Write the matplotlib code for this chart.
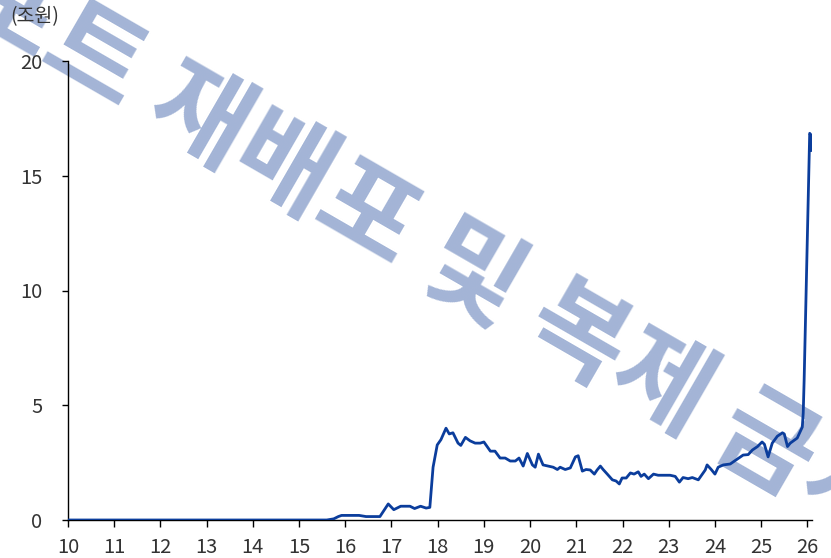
import matplotlib
matplotlib.use("Agg")
import matplotlib.pyplot as plt

plt.rcParams['font.family'] = ['Noto Sans CJK KR', 'DejaVu Sans']

# Data (year, trillion KRW)
years = [10.0, 15.6, 15.75, 15.85, 15.92, 16.3, 16.45, 16.75, 16.93, 17.05, 17.2, 17.4,
         17.5, 17.63, 17.75, 17.83, 17.9, 17.99, 18.07, 18.18, 18.25, 18.33, 18.44, 18.5,
         18.6, 18.7, 18.81, 18.92, 19.0, 19.14, 19.24, 19.35, 19.46, 19.57, 19.68, 19.76,
         19.85, 19.94, 20.05, 20.11, 20.18, 20.28, 20.39, 20.5, 20.59, 20.65, 20.76, 20.87,
         20.98, 21.04, 21.13, 21.21, 21.3, 21.39, 21.45, 21.52, 21.58, 21.67, 21.78, 21.86,
         21.93, 21.99, 22.08, 22.17, 22.25, 22.34, 22.4, 22.47, 22.56, 22.67, 22.77, 22.88,
         23.03, 23.14, 23.23, 23.31, 23.42, 23.51, 23.64, 23.79, 23.83, 23.92, 24.0, 24.07,
         24.18, 24.33, 24.48, 24.61, 24.72, 24.81, 24.92, 25.02, 25.07, 25.15, 25.24, 25.35,
         25.46, 25.5, 25.57, 25.63, 25.78, 25.89, 25.91, 25.93, 26.05, 26.07, 26.08]
values = [0.0, 0.0, 0.05, 0.15, 0.2, 0.2, 0.15, 0.15, 0.7, 0.45, 0.6, 0.6,
          0.5, 0.6, 0.52, 0.55, 2.3, 3.27, 3.5, 4.0, 3.75, 3.8, 3.35, 3.25,
          3.6, 3.45, 3.35, 3.35, 3.4, 3.0, 3.0, 2.7, 2.7, 2.57, 2.57, 2.7,
          2.35, 2.9, 2.4, 2.3, 2.87, 2.4, 2.35, 2.3, 2.2, 2.3, 2.2, 2.27,
          2.75, 2.8, 2.13, 2.2, 2.18, 2.0, 2.18, 2.35, 2.2, 2.0, 1.75, 1.7,
          1.57, 1.83, 1.83, 2.05, 2.0, 2.1, 1.9, 2.0, 1.8, 2.0, 1.95, 1.95,
          1.95, 1.9, 1.65, 1.85, 1.8, 1.85, 1.75, 2.18, 2.4, 2.2, 2.0, 2.3,
          2.4, 2.44, 2.65, 2.83, 2.85, 3.05, 3.2, 3.4, 3.3, 2.75, 3.35, 3.65,
          3.8, 3.75, 3.2, 3.35, 3.57, 4.05, 4.66, 6.1, 16.85, 16.8, 16.1]

xticks = list(range(10, 27))
yticks = [0, 5, 10, 15, 20]
unit_label = "(조원)"
watermark = "리포트 재배포 및 복제 금지"

fig = plt.figure(figsize=(8.31, 5.58), dpi=100)
ax = fig.add_axes([68/831, 1-520/558, (812-68)/831, (520-61)/558])

# Watermark behind the data line
ax.text(388/831, 1-227/558, watermark, transform=fig.transFigure,
        fontsize=76, fontweight='bold', color='#a3b4d6', rotation=-30,
        rotation_mode='anchor', ha='center', va='center', zorder=1,
        clip_on=False)
fig.patch.set_facecolor('white')

ax.plot(years, values, color='#0b3d9c', lw=2.0, zorder=3)

ax.set_xlim(10, 26.1)
ax.set_ylim(0, 20)
ax.set_xticks(xticks)
ax.set_xticklabels([str(t) for t in xticks])
ax.set_yticks(yticks)
ax.set_yticklabels([str(t) for t in yticks])

for s in ['top', 'right']:
    ax.spines[s].set_visible(False)
for s in ['left', 'bottom']:
    ax.spines[s].set_linewidth(1.0)
    ax.spines[s].set_color('black')

ax.tick_params(axis='x', direction='out', length=5, width=1, pad=7,
               labelsize=14.5, labelcolor='#333333')
ax.tick_params(axis='y', direction='out', length=4.5, width=1, pad=14,
               labelsize=14.5, labelcolor='#333333')

fig.text(10/831, 1-17/558, unit_label, fontsize=14, color='#333333',
         ha='left', va='center')

fig.savefig('out.png', dpi=100)
